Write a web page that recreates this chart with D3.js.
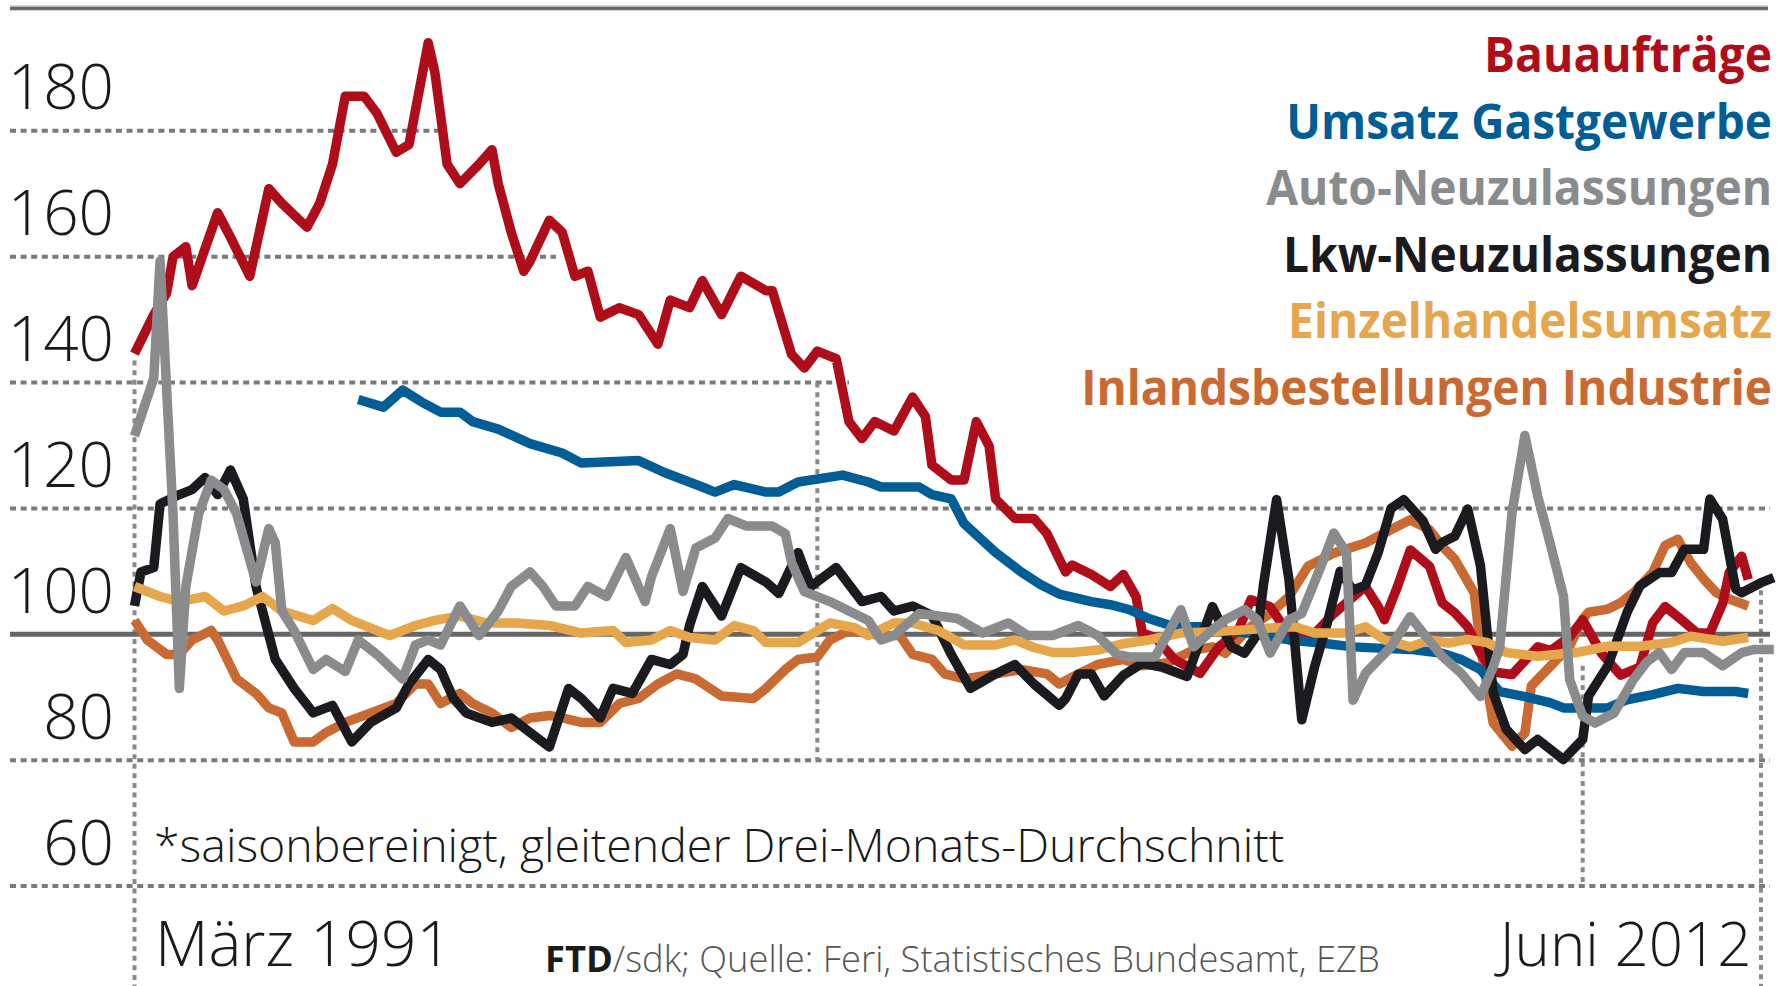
<!DOCTYPE html>
<html lang="de">
<head>
<meta charset="utf-8">
<script src="https://cdn.jsdelivr.net/npm/d3@7"></script>
<style>
  html, body { margin: 0; padding: 0; background: #fff; }
  svg { display: block; }
  .light { font-family: "Open Sans", "DejaVu Sans", sans-serif; font-weight: 300; }
  .bold { font-family: "Open Sans", "DejaVu Sans", sans-serif; font-weight: 700; }
</style>
</head>
<body>
<div id="chart"></div>
<script>
// Monate seit März 1991 (0) bis Juni 2012 (255), Indexwerte
const bauauftraege = [[0,144.6],[3,150.8],[5,154.2],[6,160],[8,161.6],[9,155.4],[13,167],[15,163.1],[18,156.9],[21,170.8],[23,168.5],[25,166.6],[27,164.7],[29,168.5],[31,174.7],[33,185.5],[36,185.5],[38,182.8],[41,176.6],[43,177.8],[46,194],[47,189.4],[49,174.7],[51,171.6],[54,174.7],[56,177],[57,171.6],[59,163.9],[61,157.7],[62,159.3],[65,165.8],[67,163.9],[69,156.9],[71,157.7],[73,150.4],[76,151.9],[79,150.8],[82,146.1],[84,153.1],[87,151.9],[89,156.2],[92,150.8],[95,156.9],[99,154.6],[100,154.6],[103,144.5],[105,142.3],[107,145],[110,143.8],[112,133.8],[114,131.1],[116,133.8],[119,132.3],[122,137.7],[124,134.6],[125,126.9],[128,124.5],[130,124.5],[132,133.8],[134,129.9],[135,121.5],[138,118.4],[141,118.4],[143,116],[146,109.9],[147,111],[150,109.5],[153,107.6],[155,109.5],[157,106],[158,100.2],[160,99.5],[163,96],[167,93.8],[170,98],[173,100.5],[175,105.5],[178,104.4],[181,100],[184,99],[188,103.3],[193,107.6],[195,104.4],[196,102.3],[198,107.6],[200,113.4],[203,110.8],[205,105],[207,103.4],[209,101.2],[211,97],[213,94],[216,93.6],[220,98],[222,97.4],[225,99.6],[227,102.3],[230,97],[233,93.5],[236,94.8],[238,101.8],[240,104.4],[242,102.8],[245,100.2],[247,100.2],[249,104.9],[250,109.8],[252,112.4],[253,108.7]];

const umsatzGastgewerbe = [[35,137.3],[39,136.1],[42,138.8],[45,136.9],[48,135.3],[51,135.3],[53,133.8],[57,132.6],[62,130.3],[67,128.8],[70,127.2],[79,127.6],[83,125.7],[89,123.4],[91,122.6],[94,123.8],[99,122.6],[101,122.6],[104,124.2],[111,125.3],[115,124.2],[117,123.4],[123,123.4],[125,122.2],[128,121.5],[130,117.6],[135,113],[139,109.9],[142,107.9],[145,106.4],[150,105.2],[153,104.7],[156,103.9],[159,102.5],[163,101.2],[167,101.2],[172,100.5],[176,100],[181,99.1],[186,98.6],[191,98],[195,97.8],[200,97.6],[205,97],[208,96],[211,94.4],[214,90.9],[218,90.1],[222,89.1],[224,88.3],[227,88.3],[231,88.3],[234,89.6],[238,90.4],[242,91.4],[246,90.9],[251,90.9],[253,90.6]];

const autoNeuzulassungen = [[0,131.5],[3,140.7],[4,159.3],[6,119.1],[7,91.4],[8,107.6],[10,119.1],[12,124.5],[14,123],[16,119.1],[19,108.3],[21,116.8],[22,114.5],[23,103.7],[25,100.6],[28,94.4],[30,96],[33,94.1],[35,99.1],[38,96.8],[42,92.9],[44,98.3],[46,99.1],[48,98.3],[51,104.5],[54,99.8],[57,103.7],[59,107.6],[62,109.9],[64,107.6],[66,104.5],[69,104.5],[71,107.6],[74,106],[77,112.2],[80,105.2],[81,109.1],[84,116.8],[86,106.8],[88,113.7],[91,115.3],[93,118.4],[96,117.2],[100,117.2],[102,116],[103,111.4],[105,106.8],[109,105.2],[112,103.7],[115,102.2],[117,99.1],[119,99.8],[123,103.3],[129,102.5],[133,100.2],[137,101.8],[140,99.8],[144,99.8],[148,101.4],[151,99.8],[154,96.8],[156,96.4],[160,96.4],[164,103.9],[166,98],[169,100.7],[171,102.3],[174,103.9],[176,102.3],[178,97],[181,102.3],[183,103.3],[186,110.8],[188,116.1],[190,112.9],[191,89.5],[193,93.8],[197,98],[200,102.8],[202,100.2],[205,96.5],[208,93.8],[211,90.1],[213,94.8],[214,98],[216,119.4],[218,131.6],[220,122],[222,114.1],[224,106.1],[225,92.8],[227,87],[229,85.9],[232,87.5],[235,92.8],[237,95.5],[239,97.1],[241,94.4],[243,97.1],[246,97.1],[249,95],[252,97.1],[254,97.6],[257,97.6]];

const lkwNeuzulassungen = [[0,104.5],[1,109.9],[3,110.6],[4,120.7],[7,122.2],[9,123],[11,124.9],[13,122.2],[15,126.1],[17,121.5],[19,107.6],[20,103.7],[22,96],[25,91.4],[28,87.5],[31,88.7],[34,82.9],[37,86],[41,88.3],[43,92.1],[46,96],[48,94.4],[50,89.8],[52,87.5],[56,86],[59,86.7],[62,84.4],[65,82.1],[68,91.4],[70,89.8],[73,86.7],[75,91.4],[78,90.6],[81,96],[84,95.2],[86,96.8],[87,101.4],[89,107.6],[92,102.9],[95,110.6],[99,108.3],[101,106.5],[104,113],[106,107.6],[110,110.6],[114,105.2],[117,106],[119,103.7],[122,104.5],[125,103],[128,96.8],[131,91.4],[135,93.7],[138,95.2],[141,92.1],[145,88.7],[146,89.8],[148,93.7],[150,93.7],[152,90.2],[155,93.5],[158,95.4],[161,94.8],[165,93.3],[169,104.4],[172,98],[174,97],[176,100],[177,108],[179,121.4],[181,108.7],[183,86.4],[185,94.8],[187,101.8],[189,110],[191,107],[193,107.8],[195,113],[197,120],[199,121.4],[202,118],[204,113.5],[205,114.6],[207,115.6],[209,119.9],[211,110.9],[213,90.7],[215,84.9],[218,81.7],[220,83.3],[224,80.1],[227,83.3],[228,90.2],[231,95],[234,103.5],[236,107.7],[239,109.8],[241,109.8],[243,113.5],[246,113.5],[247,121.5],[249,118.3],[251,107.2],[252,106.6],[255,108.2],[257,109]];

const einzelhandelsumsatz = [[0,107.6],[4,106],[7,105.2],[11,106],[14,103.7],[17,104.5],[20,106],[23,103.7],[28,102.2],[31,104.1],[34,102.2],[40,99.8],[44,101.4],[47,102.2],[51,102.9],[55,101.8],[60,101.8],[65,101.4],[70,100.2],[75,100.6],[77,98.7],[81,99.1],[84,100.6],[87,99.5],[91,99.1],[94,101.4],[97,100.6],[99,98.7],[104,98.7],[109,101.8],[113,101],[115,99.8],[119,101.8],[122,101.8],[126,100.6],[130,98.3],[135,98.3],[138,99.1],[141,97.9],[144,97.1],[147,97.1],[151,97.5],[155,98.5],[159,99.1],[164,100.2],[169,100.4],[174,100.7],[178,101],[182,101.2],[185,100.2],[190,100.2],[193,101.2],[196,99.1],[200,98],[203,99.1],[206,98.6],[209,99.2],[212,98.7],[215,97.1],[220,96.5],[226,97.1],[231,98.1],[236,98.1],[241,98.7],[244,99.7],[249,98.9],[253,99.5]];

const inlandsbestellungen = [[0,102.2],[2,99.1],[5,96.8],[7,96.8],[9,99.1],[12,100.6],[13,99.1],[16,92.9],[19,90.6],[21,88.3],[23,87.5],[25,82.9],[28,82.9],[30,84.4],[33,86],[37,87.5],[41,89],[44,92.1],[46,92.1],[48,89],[51,90.6],[53,89],[56,87.5],[59,85.2],[62,86.7],[65,87.1],[67,86.7],[70,86],[73,86],[76,89],[79,89.8],[82,92.1],[85,93.7],[88,92.9],[92,90.2],[97,89.8],[99,91.4],[102,94.4],[104,96],[107,96.4],[109,99.1],[112,100.6],[117,99.8],[120,99.8],[122,96.8],[125,96],[127,93.7],[130,92.9],[135,93.7],[139,94.4],[143,93.7],[145,92.1],[148,93.7],[151,95.2],[155,96],[158,95],[162,95.5],[166,97.5],[169,98],[171,97],[175,101.2],[178,103.3],[181,106],[184,110.8],[188,112.9],[193,114.5],[196,116.1],[200,118.2],[203,116.6],[205,114],[207,111.9],[210,106.6],[211,98.1],[213,85.9],[216,82.2],[218,84.3],[219,91.8],[221,93.9],[225,98.1],[227,102.4],[228,103.5],[231,104],[233,105],[235,106.6],[238,109.8],[240,114.1],[242,115.1],[244,111.4],[246,108.8],[248,106.6],[250,105.6],[253,104.5]];

const legendNames = ["Bauaufträge", "Umsatz Gastgewerbe", "Auto-Neuzulassungen", "Lkw-Neuzulassungen", "Einzelhandelsumsatz", "Inlandsbestellungen Industrie"];
const gridValues = [180, 160, 140, 120, 80, 60];
// Monat, an dem eine Gitterlinie vor der Legende endet (null = ganze Breite)
const gridEndMonths = [48, 66, 112, null, null, null];
const yTickValues = [180, 160, 140, 120, 100, 80, 60];
const startLabel = "März 1991";
const endLabel = "Juni 2012";
// senkrechte Hilfslinien: Monat, von Wert, bis Wert
const markerLines = [[0, 143.5, 44], [107, 140, 80], [227, 95, 60], [255, 107, 44]];
const footnote = "*saisonbereinigt, gleitender Drei-Monats-Durchschnitt";
const sourceBold = "FTD";
const sourceRest = "/sdk; Quelle: Feri, Statistisches Bundesamt, EZB";

const width = 1787, height = 986;
const colors = {
  bau: "#b00d1a", gast: "#005d95", auto: "#8a8b8d",
  lkw: "#1b1a1f", einzel: "#e6a64b", inland: "#c96a33"
};
const legendColors = [colors.bau, colors.gast, colors.auto, colors.lkw, colors.einzel, colors.inland];
// Breite der Legendentexte (schmale Schrift nachgebildet)
const legendWidths = [288, 486, 506, 489, 484, 691];

const toDate = m => new Date(1991, 2 + m, 1);

const svg = d3.select("#chart").append("svg")
  .attr("width", width)
  .attr("height", height);

const x = d3.scaleTime()
  .domain([toDate(0), toDate(255)])
  .range([134.5, 1761]);

const y = d3.scaleLinear()
  .domain([60, 200])
  .range([886, 5]);

// Oberer Balken
svg.append("line")
  .attr("x1", 10).attr("x2", 1768)
  .attr("y1", y(200) + 1).attr("y2", y(200) + 1)
  .attr("stroke", "#d4d4d6").attr("stroke-width", 2);
svg.append("line")
  .attr("x1", 10).attr("x2", 1768)
  .attr("y1", y(200) + 3.5).attr("y2", y(200) + 3.5)
  .attr("stroke", "#696969").attr("stroke-width", 3.5);

// gepunktete Gitterlinien
svg.append("g").selectAll("line")
  .data(gridValues)
  .enter()
  .append("line")
  .attr("x1", 10)
  .attr("x2", (d, i) => gridEndMonths[i] === null ? 1770 : x(toDate(gridEndMonths[i])))
  .attr("y1", d => y(d)).attr("y2", d => y(d))
  .attr("stroke", "#7a7a7a")
  .attr("stroke-width", 4)
  .attr("stroke-dasharray", "6,4.6");

// senkrechte gepunktete Linien
svg.append("g").selectAll("line")
  .data(markerLines)
  .enter()
  .append("line")
  .attr("x1", d => x(toDate(d[0]))).attr("x2", d => x(toDate(d[0])))
  .attr("y1", d => y(d[1])).attr("y2", d => y(d[2]))
  .attr("stroke", "#8a8a8a")
  .attr("stroke-width", 4)
  .attr("stroke-dasharray", "5,4.6");

// 100er Linie
svg.append("line")
  .attr("x1", 10).attr("x2", 1770)
  .attr("y1", y(100)).attr("y2", y(100))
  .attr("stroke", "#666").attr("stroke-width", 5);

// y-Beschriftung
const yAxis = svg.append("g")
  .attr("class", "light")
  .attr("transform", "translate(114,0)")
  .call(d3.axisLeft(y).tickValues(yTickValues).tickSize(0).tickPadding(0));
yAxis.select(".domain").remove();
yAxis.selectAll("text")
  .attr("dy", -22)
  .attr("fill", "#1a1a1a")
  .style("font-size", "62px");

// x-Beschriftung
const xAxis = svg.append("g")
  .attr("class", "light")
  .attr("transform", "translate(0,966)")
  .call(d3.axisBottom(x).tickValues([toDate(0), toDate(255)]).tickSize(0)
    .tickFormat((d, i) => i === 0 ? startLabel : endLabel));
xAxis.select(".domain").remove();
xAxis.selectAll("text")
  .attr("y", 0).attr("dy", 0)
  .attr("fill", "#1a1a1a")
  .style("font-size", (d, i) => i === 0 ? "62px" : "60px")
  .attr("text-anchor", (d, i) => i === 0 ? "start" : "end")
  .attr("dx", (d, i) => i === 0 ? 20 : -10);

// Linien
const line = d3.line()
  .x(d => x(toDate(d[0])))
  .y(d => y(d[1]));

const drawOrder = [
  [inlandsbestellungen, colors.inland],
  [bauauftraege, colors.bau],
  [umsatzGastgewerbe, colors.gast],
  [lkwNeuzulassungen, colors.lkw],
  [einzelhandelsumsatz, colors.einzel],
  [autoNeuzulassungen, colors.auto]
];

svg.append("g").selectAll("path")
  .data(drawOrder)
  .enter()
  .append("path")
  .attr("d", d => line(d[0]))
  .attr("fill", "none")
  .attr("stroke", d => d[1])
  .attr("stroke-width", 9.5)
  .attr("stroke-linejoin", "round")
  .attr("stroke-linecap", "butt");

// Legende (waagrecht gestaucht wie eine schmale Schrift)
svg.append("g").selectAll("text")
  .data(legendNames)
  .enter()
  .append("text")
  .attr("class", "bold")
  .attr("text-anchor", "end")
  .attr("fill", (d, i) => legendColors[i])
  .style("font-size", "49px")
  .text(d => d)
  .each(function(d, i) {
    const sx = legendWidths[i] / this.getComputedTextLength();
    d3.select(this).attr("transform",
      "translate(1772," + (72 + i * 66.6) + ") scale(" + sx + ",1)");
  });

// Fußnote
svg.append("text")
  .attr("class", "light")
  .attr("x", 154).attr("y", 862)
  .attr("fill", "#1a1a1a")
  .style("font-size", "46.5px")
  .text(footnote);

// Quelle
const src = svg.append("text")
  .attr("x", 545).attr("y", 972)
  .style("font-size", "36.3px");
src.append("tspan")
  .attr("class", "bold")
  .attr("fill", "#1a1a1a")
  .text(sourceBold);
src.append("tspan")
  .attr("class", "light")
  .attr("fill", "#555")
  .text(sourceRest);
</script>
</body>
</html>
